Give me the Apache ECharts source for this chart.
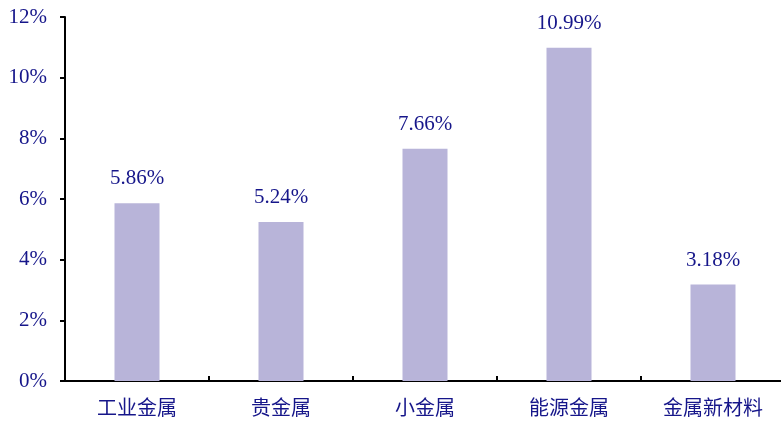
<!DOCTYPE html>
<html>
<head>
<meta charset="utf-8">
<script src="https://cdn.jsdelivr.net/npm/echarts@6/dist/echarts.min.js"></script>
<style>
html,body{margin:0;padding:0;background:#fff;overflow:hidden;}
#chart{width:785px;height:421px;}
</style>
</head>
<body>
<div id="chart"></div>
<script>
// Sector returns (%)
const categories = ['工业金属', '贵金属', '小金属', '能源金属', '金属新材料'];
const returns = [5.86, 5.24, 7.66, 10.99, 3.18];
const yTicks = [0, 2, 4, 6, 8, 10, 12];

const textColor = '#16168a';
const chart = echarts.init(document.getElementById('chart'));
chart.setOption({
  animation: false,
  grid: { left: 65, right: 0, top: 17, bottom: 40, containLabel: false },
  xAxis: {
    type: 'category',
    data: categories,
    axisLine: { lineStyle: { color: '#000', width: 2 } },
    axisTick: { show: true, inside: true, length: 5, lineStyle: { color: '#000', width: 2 } },
    axisLabel: {
      color: textColor, fontSize: 20, margin: 16,
      fontFamily: 'Noto Sans CJK SC'
    }
  },
  yAxis: {
    type: 'value',
    min: yTicks[0], max: yTicks[yTicks.length - 1], interval: 2,
    axisLine: { show: true, lineStyle: { color: '#000', width: 2 } },
    axisTick: { show: true, length: 5, lineStyle: { color: '#000', width: 2 } },
    splitLine: { show: false },
    axisLabel: {
      color: textColor, fontSize: 21, margin: 18,
      fontFamily: 'Liberation Serif',
      formatter: v => v + '%'
    }
  },
  series: [{
    type: 'bar',
    data: returns,
    barWidth: 45,
    itemStyle: { color: '#b8b4d9' },
    label: {
      show: true, position: 'top', distance: 14,
      color: textColor, fontSize: 21, fontFamily: 'Liberation Serif',
      formatter: p => p.value.toFixed(2) + '%'
    }
  }]
});
</script>
</body>
</html>
